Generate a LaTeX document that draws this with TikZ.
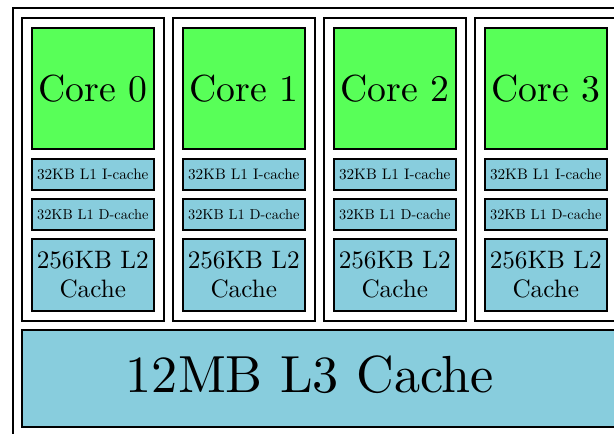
\documentclass[tikz,border=0pt]{standalone}
\usepackage{fontspec}
\definecolor{coregreen}{RGB}{88,255,88}
\definecolor{cacheblue}{RGB}{136,205,221}
% labels are set at 10pt and magnified, so every label keeps the 10pt design
\newcommand{\bigline}[2]{\scalebox{#1}{\fontsize{10}{11.5}\selectfont #2}}
\newcommand{\bigstack}[2]{\scalebox{#1}{\fontsize{10}{11.5}\selectfont
  \begin{tabular}{@{}c@{}}#2\end{tabular}}}
\begin{document}
\begin{tikzpicture}[x=1pt,y=-1pt,
  frame/.style={draw=black,line width=1.6pt,inner sep=0pt,anchor=north west},
  corebox/.style={draw=black,line width=1.5pt,fill=coregreen,inner sep=0pt,
    anchor=north west,minimum width=122pt,minimum height=121pt},
  l1box/.style={draw=black,line width=1.5pt,fill=cacheblue,inner sep=0pt,
    anchor=north west,minimum width=122pt,minimum height=31pt},
  l2box/.style={draw=black,line width=1.5pt,fill=cacheblue,inner sep=0pt,
    anchor=north west,minimum width=122pt,minimum height=72pt},
  l3box/.style={draw=black,line width=1.5pt,fill=cacheblue,inner sep=0pt,
    anchor=north west,minimum width=640pt,minimum height=97pt}]
\useasboundingbox (0,0) rectangle (614,434);
\clip (0,0) rectangle (614,434);
% chip outline
\node[frame,minimum width=660pt,minimum height=460pt] (chip) at (12,7) {};
% four cores, each with private L1/L2 caches
\foreach \i in {0,...,3} {
  \pgfmathsetmacro\gx{21+151*\i}
  \node[frame,minimum width=142pt,minimum height=303pt] (grp\i) at (\gx,17) {};
  \node[corebox] (core\i) at (\gx+10,27) {\bigline{3.77}{Core \i}};
  \node[l1box] (l1i\i) at (\gx+10,158) {\bigline{1.52}{32KB L1 I-cache}};
  \node[l1box] (l1d\i) at (\gx+10,198) {\bigline{1.44}{32KB L1 D-cache}};
  \node[l2box] (l2\i) at (\gx+10,238) {};
  \node[inner sep=0pt,yshift=-2.6pt] (l2text\i) at (l2\i.center)
    {\bigstack{2.52}{256KB L2\\Cache}};
}
% shared last-level cache
\node[l3box] (l3) at (21,329) {};
\node[inner sep=0pt] (l3text) at (310,375) {\bigline{5.22}{12MB L3 Cache}};
\end{tikzpicture}
\end{document}
